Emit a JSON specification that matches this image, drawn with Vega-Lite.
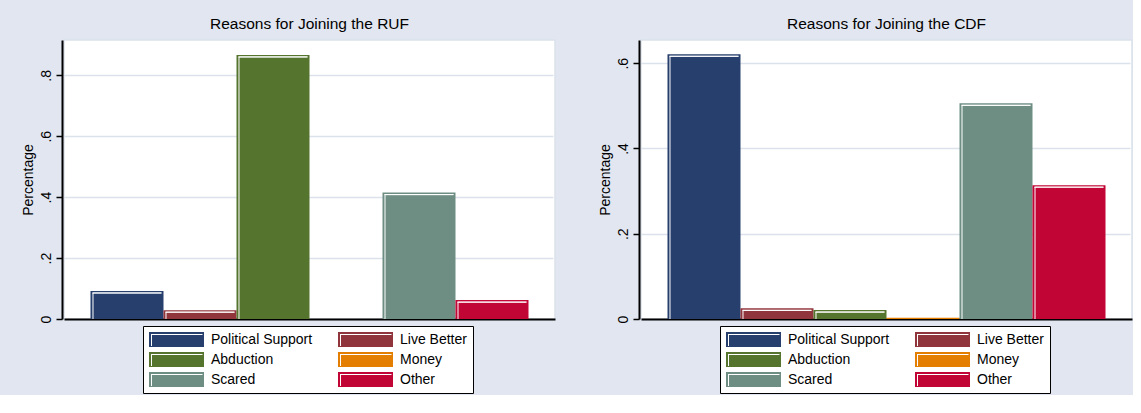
{
  "$schema": "https://vega.github.io/schema/vega-lite/v6.json",
  "background": "#E1E6F0",
  "padding": {"left": 20, "top": 15, "right": 0, "bottom": 0},
  "autosize": {"type": "pad"},
  "bounds": "flush",
  "spacing": 86,
  "datasets": {
    "ruf": [
      {"reason": "Political Support", "value": 0.092},
      {"reason": "Live Better", "value": 0.029},
      {"reason": "Abduction", "value": 0.867},
      {"reason": "Money", "value": 0.0},
      {"reason": "Scared", "value": 0.415},
      {"reason": "Other", "value": 0.062}
    ],
    "cdf": [
      {"reason": "Political Support", "value": 0.621},
      {"reason": "Live Better", "value": 0.025},
      {"reason": "Abduction", "value": 0.021},
      {"reason": "Money", "value": 0.003},
      {"reason": "Scared", "value": 0.506},
      {"reason": "Other", "value": 0.314}
    ]
  },
  "hconcat": [
    {
      "width": 491,
      "height": 279,
      "data": {"name": "ruf"},
      "title": {"text": "Reasons for Joining the RUF"},
      "layer": [
        {
          "mark": {"type": "bar"},
          "encoding": {
            "x": {"field": "reason", "type": "nominal", "sort": ["Political Support", "Live Better", "Abduction", "Money", "Scared", "Other"], "scale": {"paddingInner": 0, "paddingOuter": 0.363}, "axis": {"labels": false, "ticks": false, "title": null, "grid": false, "domainColor": "black", "domainWidth": 2}},
            "y": {"field": "value", "type": "quantitative", "scale": {"domain": [0, 0.916], "nice": false}, "axis": {"values": [0, 0.2, 0.4, 0.6, 0.8], "title": "Percentage"}},
            "color": {"field": "reason", "type": "nominal", "sort": ["Political Support", "Live Better", "Abduction", "Money", "Scared", "Other"], "scale": {"domain": ["Political Support", "Live Better", "Abduction", "Money", "Scared", "Other"], "range": ["#263F6D", "#90353B", "#55752F", "#E37E00", "#6E8E84", "#C10534"]}, "legend": {"legendX": 79, "legendY": 286}}
          }
        },
        {
          "transform": [{"filter": "datum.value >= 0.01"}],
          "mark": {"type": "bar", "filled": false, "stroke": "white", "strokeWidth": 1, "width": {"band": 0.945}, "yOffset": 2, "y2Offset": 2},
          "encoding": {
            "x": {"field": "reason", "type": "nominal", "sort": ["Political Support", "Live Better", "Abduction", "Money", "Scared", "Other"]},
            "y": {"field": "value", "type": "quantitative"},
            "y2": {"field": "value"}
          }
        },
        {
          "transform": [{"filter": "datum.value >= 0.01"}],
          "mark": {"type": "rule", "stroke": "white", "strokeWidth": 1, "xOffset": 2.5, "yOffset": 2},
          "encoding": {
            "x": {"field": "reason", "type": "nominal", "bandPosition": 0, "sort": ["Political Support", "Live Better", "Abduction", "Money", "Scared", "Other"]},
            "y": {"field": "value", "type": "quantitative"},
            "y2": {"datum": 0}
          }
        }
      ]
    },
    {
      "width": 491,
      "height": 279,
      "data": {"name": "cdf"},
      "title": {"text": "Reasons for Joining the CDF"},
      "layer": [
        {
          "mark": {"type": "bar"},
          "encoding": {
            "x": {"field": "reason", "type": "nominal", "sort": ["Political Support", "Live Better", "Abduction", "Money", "Scared", "Other"], "scale": {"paddingInner": 0, "paddingOuter": 0.363}, "axis": {"labels": false, "ticks": false, "title": null, "grid": false, "domainColor": "black", "domainWidth": 2}},
            "y": {"field": "value", "type": "quantitative", "scale": {"domain": [0, 0.6545], "nice": false}, "axis": {"values": [0, 0.2, 0.4, 0.6], "title": "Percentage"}},
            "color": {"field": "reason", "type": "nominal", "sort": ["Political Support", "Live Better", "Abduction", "Money", "Scared", "Other"], "scale": {"domain": ["Political Support", "Live Better", "Abduction", "Money", "Scared", "Other"], "range": ["#263F6D", "#90353B", "#55752F", "#E37E00", "#6E8E84", "#C10534"]}, "legend": {"legendX": 79, "legendY": 286}}
          }
        },
        {
          "transform": [{"filter": "datum.value >= 0.01"}],
          "mark": {"type": "bar", "filled": false, "stroke": "white", "strokeWidth": 1, "width": {"band": 0.945}, "yOffset": 2, "y2Offset": 2},
          "encoding": {
            "x": {"field": "reason", "type": "nominal", "sort": ["Political Support", "Live Better", "Abduction", "Money", "Scared", "Other"]},
            "y": {"field": "value", "type": "quantitative"},
            "y2": {"field": "value"}
          }
        },
        {
          "transform": [{"filter": "datum.value >= 0.01"}],
          "mark": {"type": "rule", "stroke": "white", "strokeWidth": 1, "xOffset": 2.5, "yOffset": 2},
          "encoding": {
            "x": {"field": "reason", "type": "nominal", "bandPosition": 0, "sort": ["Political Support", "Live Better", "Abduction", "Money", "Scared", "Other"]},
            "y": {"field": "value", "type": "quantitative"},
            "y2": {"datum": 0}
          }
        }
      ]
    }
  ],
  "resolve": {"scale": {"color": "independent"}, "legend": {"color": "independent"}},
  "config": {
    "font": "Liberation Sans",
    "view": {"fill": "white", "stroke": "#DCE2EC", "strokeWidth": 1.5},
    "title": {"fontSize": 15.5, "fontWeight": "normal", "color": "black", "font": "Liberation Sans", "frame": "group", "anchor": "middle", "offset": 8},
    "axisY": {
      "domainColor": "black", "domainWidth": 2, "offset": 2,
      "tickColor": "black", "tickWidth": 1.5, "tickSize": 6,
      "labelAngle": -90, "labelFontSize": 14, "labelColor": "black", "labelFont": "Liberation Sans", "labelPadding": 3,
      "labelExpr": "datum.value == 0 ? '0' : substring(format(datum.value, '.1f'), 1)",
      "gridColor": "#DCE2EC", "gridWidth": 1.5, "gridOpacity": 1,
      "titleFontSize": 14, "titleFontWeight": "normal", "titleColor": "black", "titleFont": "Liberation Sans", "titlePadding": 4
    },
    "legend": {
      "orient": "none", "direction": "horizontal", "title": null, "columns": 2,
      "fillColor": "white", "strokeColor": "black", "padding": 6,
      "symbolType": "M-3.667,-1H3.667V1H-3.667Z M-3.4,-0.733V0.867H-3.267V-0.6H3.467V-0.733Z",
      "symbolSize": 225, "symbolStrokeWidth": 0, "symbolOffset": 20, "symbolOpacity": 1,
      "labelOffset": 27, "labelFontSize": 14, "labelFont": "Liberation Sans", "labelColor": "black", "labelLimit": 0,
      "columnPadding": 24, "rowPadding": 5,
      "encode": {"legend": {"update": {"strokeWidth": {"value": 2}}}}
    }
  }
}
